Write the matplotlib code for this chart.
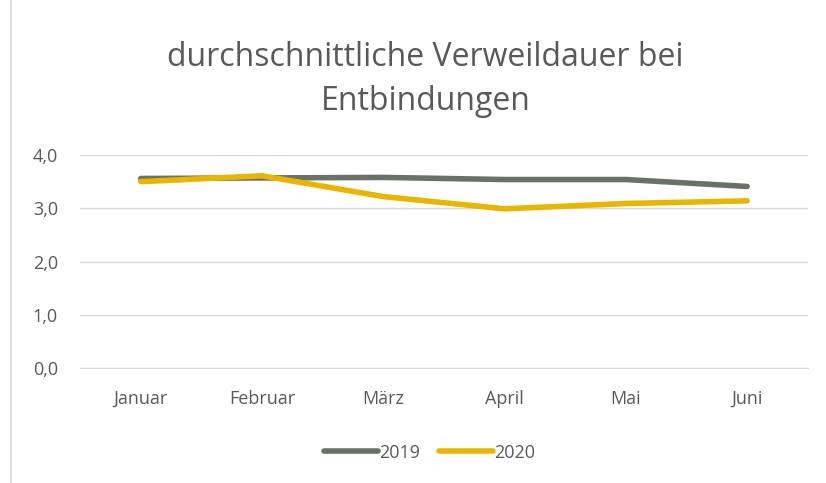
import matplotlib.pyplot as plt
from matplotlib.lines import Line2D

plt.rcParams['font.family'] = ['Open Sans', 'DejaVu Sans']

monate = ['Januar', 'Februar', 'März', 'April', 'Mai', 'Juni']
werte_2019 = [3.56, 3.57, 3.58, 3.54, 3.54, 3.41]
werte_2020 = [3.50, 3.61, 3.22, 2.99, 3.09, 3.14]

farbe_2019 = '#687268'
farbe_2020 = '#E9B500'
textfarbe = '#595959'

fig = plt.figure(figsize=(8.26, 4.83), dpi=100)
ax = fig.add_axes([0.097, 0.238, 0.881, 0.441])

x = range(len(monate))
ax.plot(x, werte_2019, color=farbe_2019, lw=4, solid_capstyle='round', label='2019')
ax.plot(x, werte_2020, color=farbe_2020, lw=4, solid_capstyle='round', label='2020')

ax.set_xlim(-0.5, len(monate) - 0.5)
ax.set_ylim(0, 4)
ax.set_yticks([0, 1, 2, 3, 4])
ax.set_yticklabels(['0,0', '1,0', '2,0', '3,0', '4,0'])
ax.set_xticks(list(x))
ax.set_xticklabels(monate)
ax.tick_params(length=0, labelsize=13, colors=textfarbe)
ax.tick_params(axis='x', pad=16)
ax.tick_params(axis='y', pad=16)
ax.grid(axis='y', color='#D9D9D9', lw=1)
ax.set_axisbelow(True)
for s in ['top', 'right', 'left']:
    ax.spines[s].set_visible(False)
ax.spines['bottom'].set_color('#D9D9D9')

fig.text(0.515, 0.88, 'durchschnittliche Verweildauer bei', ha='center', va='center',
         fontsize=23, color=textfarbe)
fig.text(0.515, 0.79, 'Entbindungen', ha='center', va='center',
         fontsize=23, color=textfarbe)

leg = fig.legend(loc='center', bbox_to_anchor=(0.52, 0.063), ncol=2, frameon=False,
                 fontsize=13, handlelength=3.0, columnspacing=1.0, handletextpad=0.1)
for t in leg.get_texts():
    t.set_color(textfarbe)

# linker Rahmen des Diagramms
fig.add_artist(Line2D([0.013, 0.013], [0, 1], transform=fig.transFigure,
                      color='#D9D9D9', lw=1.2))

fig.savefig('out.png', dpi=100)
